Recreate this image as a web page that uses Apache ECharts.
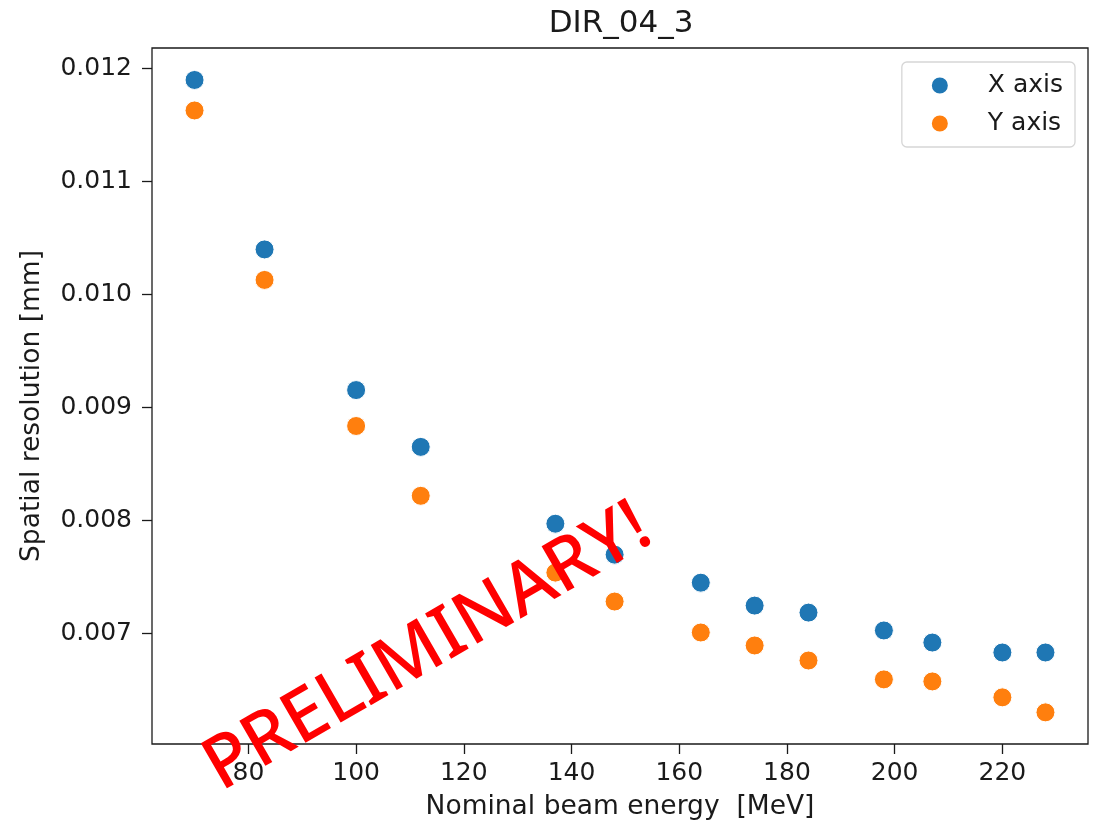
<!DOCTYPE html>
<html>
<head>
<meta charset="utf-8">
<script src="https://cdn.jsdelivr.net/npm/echarts@6/dist/echarts.min.js"></script>
<style>
  html, body { margin: 0; padding: 0; background: #fff; }
  #main { width: 1102px; height: 826px; }
</style>
</head>
<body>
<div id="main"></div>
<script>
// ビームエネルギー [MeV]
var energies = [70, 83, 100, 112, 137, 148, 164, 174, 184, 198, 207, 220, 228];
// 分解能 [mm]
var xAxisRes = [0.01190, 0.01040, 0.009155, 0.008652, 0.007972, 0.007698, 0.007450, 0.007247, 0.007185, 0.007027, 0.006920, 0.006832, 0.006832];
var yAxisRes = [0.01163, 0.01013, 0.008837, 0.008219, 0.007539, 0.007283, 0.007009, 0.006894, 0.006761, 0.006594, 0.006576, 0.006435, 0.006302];
var xTicks = [80, 100, 120, 140, 160, 180, 200, 220];
var yTicks = [0.007, 0.008, 0.009, 0.010, 0.011, 0.012];

function pairs(xs, ys) {
  return xs.map(function (x, i) { return [x, ys[i]]; });
}

var chart = echarts.init(document.getElementById('main'));
var font = 'DejaVu Sans';
var option = {
  backgroundColor: '#fff',
  animation: false,
  title: {
    text: 'DIR_04_3',
    left: 616,
    top: 3,
    textAlign: 'center',
    textStyle: { fontFamily: font, fontSize: 31, fontWeight: 'normal', color: '#1a1a1a' }
  },
  grid: {
    left: 152, right: 14, top: 48, bottom: 81,
    show: true, borderColor: '#1a1a1a', borderWidth: 1.3, backgroundColor: '#fff'
  },
  legend: {
    orient: 'vertical',
    right: 27, top: 62,
    icon: 'circle',
    itemWidth: 18, itemHeight: 18,
    itemGap: 13,
    padding: [11, 12, 11, 28],
    borderColor: '#d6d6d6', borderWidth: 1.3, borderRadius: 5,
    backgroundColor: 'rgba(255,255,255,0.8)',
    textStyle: { fontFamily: font, fontSize: 25, color: '#1a1a1a', padding: [0, 0, 0, 34] },
    data: ['X axis', 'Y axis']
  },
  xAxis: {
    type: 'value',
    min: 62.1, max: 235.9,
    name: 'Nominal beam energy  [MeV]',
    nameLocation: 'middle',
    nameGap: 50,
    nameTextStyle: { fontFamily: font, fontSize: 26.5, color: '#1a1a1a' },
    axisLine: { show: false },
    splitLine: { show: false },
    axisTick: { show: true, inside: false, length: 10, customValues: xTicks, lineStyle: { color: '#1a1a1a', width: 1.3 } },
    axisLabel: { customValues: xTicks, margin: 17, fontFamily: font, fontSize: 25, color: '#1a1a1a' }
  },
  yAxis: {
    type: 'value',
    min: 0.006022, max: 0.012183,
    name: 'Spatial resolution [mm]',
    nameLocation: 'middle',
    nameGap: 106,
    nameTextStyle: { fontFamily: font, fontSize: 26.5, color: '#1a1a1a', padding: [0, 20, 0, 0] },
    axisLine: { show: false },
    splitLine: { show: false },
    axisTick: { show: true, inside: false, length: 10, customValues: yTicks, lineStyle: { color: '#1a1a1a', width: 1.3 } },
    axisLabel: {
      customValues: yTicks, margin: 20, fontFamily: font, fontSize: 25, color: '#1a1a1a',
      formatter: function (v) { return v.toFixed(3); }
    }
  },
  series: [
    {
      name: 'X axis', type: 'scatter', symbolSize: 19,
      itemStyle: { color: '#1f77b4', borderColor: '#fff', borderWidth: 1, opacity: 1 },
      data: pairs(energies, xAxisRes)
    },
    {
      name: 'Y axis', type: 'scatter', symbolSize: 19,
      itemStyle: { color: '#ff7f0e', borderColor: '#fff', borderWidth: 1, opacity: 1 },
      data: pairs(energies, yAxisRes)
    }
  ],
  graphic: [
    {
      type: 'text',
      x: 428, y: 648,
      rotation: 0.524,
      z: 100,
      style: {
        text: 'PRELIMINARY!',
        fill: '#ff0000',
        font: '500 73px "Noto Sans"',
        align: 'center',
        verticalAlign: 'middle'
      }
    }
  ]
};
chart.setOption(option);
</script>
</body>
</html>
